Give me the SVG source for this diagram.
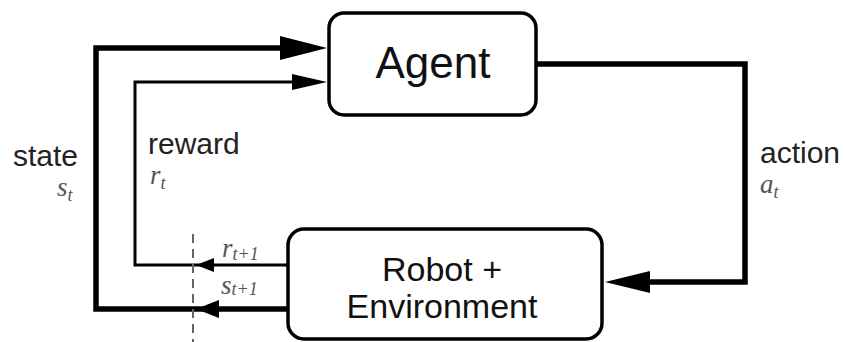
<svg xmlns="http://www.w3.org/2000/svg" width="844" height="342" viewBox="0 0 844 342">
<style>
.box{fill:#fff;stroke:#000;stroke-width:3.5}
.thick{fill:none;stroke:#000;stroke-width:5.5;stroke-linejoin:miter}
.thin{fill:none;stroke:#000;stroke-width:3;stroke-linejoin:miter}
.head{fill:#000}
.dash{fill:none;stroke:#666;stroke-width:2;stroke-dasharray:9 6}
.lbl{font-family:"Liberation Sans",Arial,sans-serif;fill:#222}
.big{font-size:44px;fill:#111}
.mid{font-size:34px;fill:#111}
.sm{font-size:30px}
.math{font-family:"Liberation Serif","Times New Roman",serif;font-style:italic;fill:#555;font-size:27px}
.sub{font-size:18px}
</style>
<g id="connectors">
<path class="thick" d="M287,309 H96 V48 H285"/>
<polygon class="head" points="327,48 280,36 280,60"/>
<path class="thin" d="M287,265 H135 V82 H295"/>
<polygon class="head" points="327,82 292,74 292,90"/>
<path class="thick" d="M537,64 H745 V282 H645"/>
<polygon class="head" points="605,282 650,271 650,293"/>
<polygon class="head" points="196,309 219,300 219,318"/>
<polygon class="head" points="196,265 214,258 214,272"/>
<line class="dash" x1="193" y1="234" x2="193" y2="342"/>
</g>
<g id="agent">
<rect class="box" x="329" y="13" width="207" height="102" rx="15"/>
<text class="lbl big" x="433" y="78" text-anchor="middle">Agent</text>
</g>
<g id="robot">
<rect class="box" x="288" y="229" width="314" height="110" rx="16"/>
<text class="lbl mid" x="442" y="281" text-anchor="middle">Robot +</text>
<text class="lbl mid" x="442" y="318" text-anchor="middle">Environment</text>
</g>
<g id="labels">
<text class="lbl sm" x="13" y="166">state</text>
<text class="math" x="57" y="196">s<tspan class="sub" dy="5">t</tspan></text>
<text class="lbl sm" x="148" y="154">reward</text>
<text class="math" x="150" y="184">r<tspan class="sub" dy="5">t</tspan></text>
<text class="lbl sm" x="760" y="163">action</text>
<text class="math" x="760" y="193">a<tspan class="sub" dy="5">t</tspan></text>
<text class="math" x="222" y="257">r<tspan class="sub" dy="3">t+1</tspan></text>
<text class="math" x="221" y="294">s<tspan class="sub" dy="1">t+1</tspan></text>
</g>
</svg>
